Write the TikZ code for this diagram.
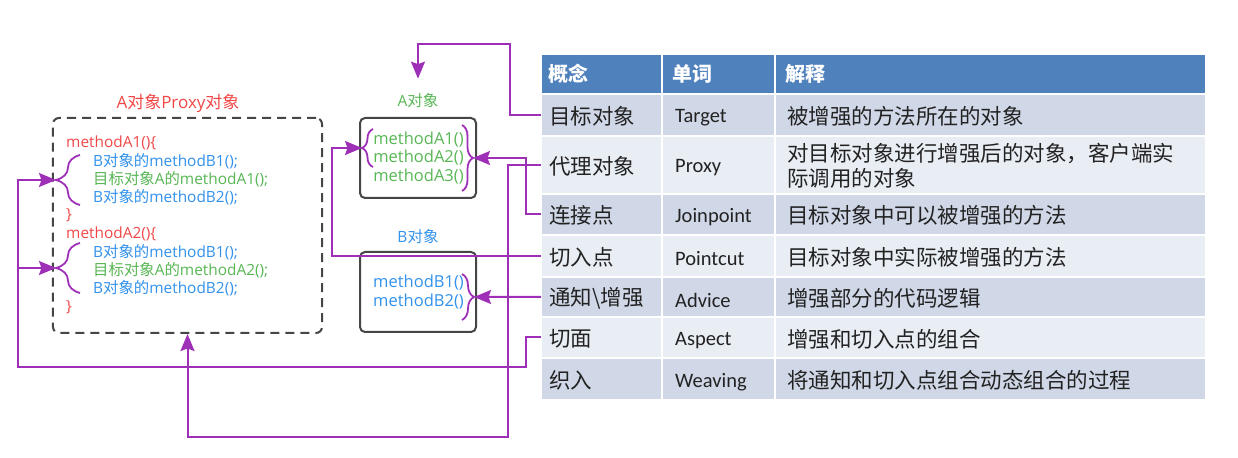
\documentclass[tikz,border=0pt]{standalone}
\usepackage{fontspec}
\setmainfont{Open Sans}
\newfontfamily\C{Noto Sans CJK SC}
\newfontfamily\Cal{Carlito}
\usetikzlibrary{arrows.meta,decorations.pathreplacing}
\newcommand\cj[1]{{\C #1}}
\definecolor{purp}{RGB}{158,48,184}
\definecolor{cred}{RGB}{240,72,72}
\definecolor{cblue}{RGB}{50,145,235}
\definecolor{cgreen}{RGB}{88,182,84}
\definecolor{hdr}{RGB}{79,129,189}
\definecolor{rowd}{RGB}{208,216,232}
\definecolor{rowl}{RGB}{233,237,244}
\definecolor{boxg}{RGB}{70,70,70}
\definecolor{txt}{RGB}{34,34,34}
\begin{document}
\begin{tikzpicture}[x=1bp,y=-1bp,
  conn/.style={draw=purp,line width=2bp},
  arr/.style={-{Stealth[length=17bp,width=14bp,inset=2.5bp]}},
  cellbox/.style={draw=white,line width=1.5bp,anchor=north west,inner sep=0,outer sep=0},
  hdrtx/.style={anchor=west,inner sep=0,text=white,font=\C\bfseries\fontsize{20bp}{23bp}\selectfont},
  cjtx/.style={anchor=west,inner sep=0,text=txt,font=\C\fontsize{21.5bp}{25bp}\selectfont},
  lattx/.style={anchor=west,inner sep=0,text=txt,yshift=-2bp,font=\Cal\fontsize{20.5bp}{24bp}\selectfont},
  code/.style={anchor=west,inner sep=0,font=\fontsize{15.4bp}{18bp}\selectfont},
  objtx/.style={inner sep=0,font=\fontsize{16.5bp}{19bp}\selectfont},
  ttl/.style={inner sep=0,font=\fontsize{15.5bp}{18bp}\selectfont},
  objbox/.style={draw=boxg,line width=2bp,rounded corners=5bp,inner sep=0},
  brc/.style={draw=purp,line width=1.8bp,decorate},
]
\useasboundingbox (0,0) rectangle (1238,458);
% ---------- table ----------
\node[cellbox,fill=hdr,minimum width=121bp,minimum height=40bp] (h1) at (541,54) {};
\node[cellbox,fill=hdr,minimum width=113bp,minimum height=40bp] (h2) at (662,54) {};
\node[cellbox,fill=hdr,minimum width=431bp,minimum height=40bp] (h3) at (775,54) {};
\foreach \n/\y/\h/\c in {1/94/42/rowd,2/136/58/rowl,3/194/41/rowd,4/235/42/rowl,5/277/40/rowd,6/317/41/rowl,7/358/42/rowd}{
  \node[cellbox,fill=\c,minimum width=121bp,minimum height=\h bp] (r\n c1) at (541,\y) {};
  \node[cellbox,fill=\c,minimum width=113bp,minimum height=\h bp] (r\n c2) at (662,\y) {};
  \node[cellbox,fill=\c,minimum width=431bp,minimum height=\h bp] (r\n c3) at (775,\y) {};
}
\node[hdrtx] (t01) at (548,74) {概念};
\node[hdrtx] (t02) at (672,74) {单词};
\node[hdrtx] (t03) at (785,74) {解释};
\node[cjtx] (t11) at (549,116) {目标对象};
\node[lattx] (t12) at (675,116) {Target};
\node[cjtx] (t13) at (787,116) {被增强的方法所在的对象};
\node[cjtx] (t21) at (549,166) {代理对象};
\node[lattx] (t22) at (675,166) {Proxy};
\node[cjtx,align=left] (t23) at (787,166) {对目标对象进行增强后的对象，客户端实\\际调用的对象};
\node[cjtx] (t31) at (549,215) {连接点};
\node[lattx] (t32) at (675,215) {Joinpoint};
\node[cjtx] (t33) at (787,215) {目标对象中可以被增强的方法};
\node[cjtx] (t41) at (549,257) {切入点};
\node[lattx] (t42) at (675,257) {Pointcut};
\node[cjtx] (t43) at (787,257) {目标对象中实际被增强的方法};
\node[cjtx] (t51) at (549,298) {通知\textbackslash 增强};
\node[lattx] (t52) at (675,298) {Advice};
\node[cjtx] (t53) at (787,298) {增强部分的代码逻辑};
\node[cjtx] (t61) at (549,339) {切面};
\node[lattx] (t62) at (675,339) {Aspect};
\node[cjtx] (t63) at (787,339) {增强和切入点的组合};
\node[cjtx] (t71) at (549,380) {织入};
\node[lattx] (t72) at (675,380) {Weaving};
\node[cjtx] (t73) at (787,380) {将通知和切入点组合动态组合的过程};
% ---------- proxy box ----------
\node[draw=boxg,line width=2bp,dash pattern=on 9bp off 6bp,rounded corners=6bp,inner sep=0,minimum width=269bp,minimum height=215bp] (proxy) at (187.5,225.5) {};
\node[ttl,text=cred,font=\fontsize{17bp}{19bp}\selectfont] (ptitle) at (178,103) {A\cj{对象}Proxy\cj{对象}};
\node[code,text=cred] (m1) at (66,143) {methodA1()\{};
\node[code,text=cblue] (m1a) at (93,161) {B\cj{对象的}methodB1();};
\node[code,text=cgreen] (m1b) at (93,179) {\cj{目标对象}A\cj{的}methodA1();};
\node[code,text=cblue] (m1c) at (93,197) {B\cj{对象的}methodB2();};
\node[code,text=cred] (m1e) at (66,215) {\}};
\node[code,text=cred] (m2) at (66,234) {methodA2()\{};
\node[code,text=cblue] (m2a) at (93,252) {B\cj{对象的}methodB1();};
\node[code,text=cgreen] (m2b) at (93,270) {\cj{目标对象}A\cj{的}methodA2();};
\node[code,text=cblue] (m2c) at (93,288) {B\cj{对象的}methodB2();};
\node[code,text=cred] (m2e) at (66,307) {\}};
% ---------- A and B objects ----------
\node[ttl,text=cgreen] (atitle) at (418,101) {A\cj{对象}};
\node[objbox,minimum width=116bp,minimum height=80bp] (abox) at (418,158) {};
\node[objtx,text=cgreen] (a1) at (418.5,140) {methodA1()};
\node[objtx,text=cgreen] (a2) at (418.5,158) {methodA2()};
\node[objtx,text=cgreen] (a3) at (418.5,177) {methodA3()};
\node[ttl,text=cblue] (btitle) at (418,237) {B\cj{对象}};
\node[objbox,minimum width=116bp,minimum height=80bp] (bbox) at (418,292) {};
\node[objtx,text=cblue] (b1) at (418.5,283) {methodB1()};
\node[objtx,text=cblue] (b2) at (418.5,302) {methodB2()};
% ---------- braces ----------
\draw[brc,decoration={brace,amplitude=11bp}] (373,167) -- (373,129);
\draw[brc,decoration={brace,amplitude=11bp}] (462,125) -- (462,191);
\draw[brc,decoration={brace,amplitude=12bp}] (462,274) -- (462,320);
\draw[brc,decoration={brace,amplitude=24bp}] (80,205) -- (80,155);
\draw[brc,decoration={brace,amplitude=24bp}] (80,293) -- (80,243);
\coordinate (altip) at (362,148);
\coordinate (artip) at (473,158);
\coordinate (brtip) at (474,297);
\coordinate (l1tip) at (56,180);
\coordinate (l2tip) at (56,268);
% ---------- connectors ----------
\coordinate (k1) at (510,44);
\coordinate (k2) at (508,437);
\coordinate (k3) at (526,158);
\coordinate (k4) at (332,148);
\coordinate (k6) at (526,367);
\coordinate (k6b) at (18,180);
\draw[conn,arr,shorten >=15bp] (r1c1.west) -| (k1) -| (atitle.north);
\draw[conn,arr] (r2c1.west) -| (k2) -| (proxy.south);
\draw[conn,arr] (r3c1.west) -| (k3) -- (artip);
\draw[conn,arr] (r4c1.west) -| (k4) -- (altip);
\draw[conn,arr] (r5c1.west) -- (brtip);
\draw[conn,arr] (r6c1.west) -| (k6) -| (k6b) -- (l1tip);
\draw[conn,arr] (k6b |- l2tip) -- (l2tip);
\end{tikzpicture}
\end{document}
